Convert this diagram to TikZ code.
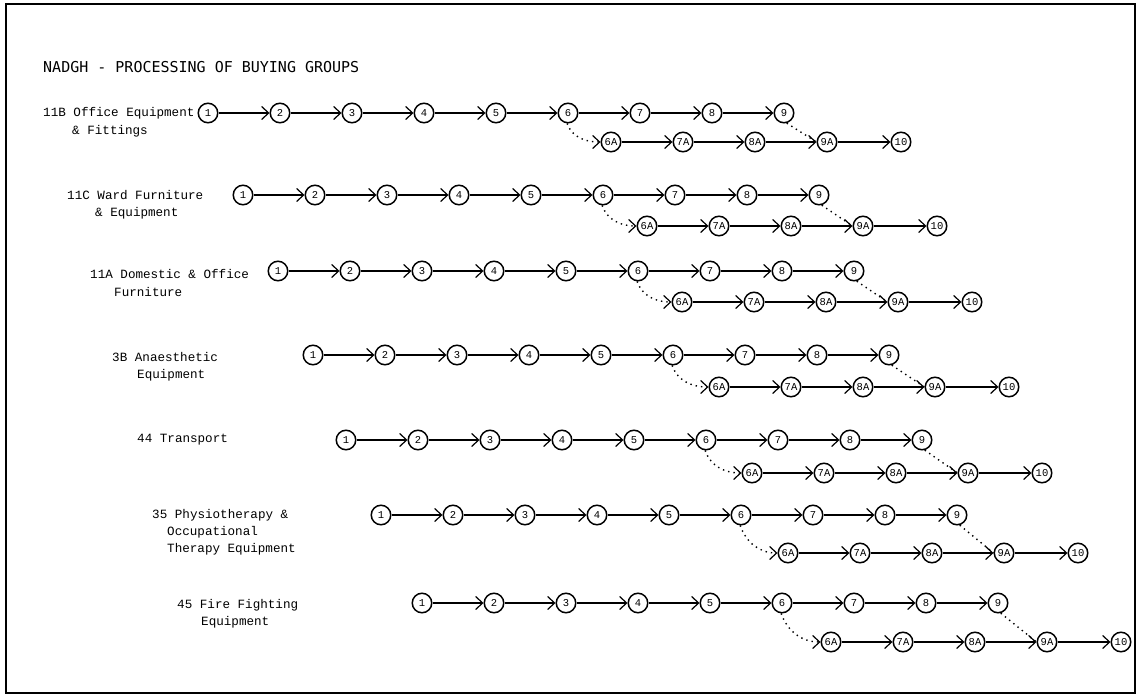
\documentclass[tikz,border=0pt]{standalone}
\usepackage{fontspec}
\newfontfamily\labfont{Liberation Mono}
\newfontfamily\titlefont{DejaVu Sans Mono}
\usetikzlibrary{arrows.meta}
\begin{document}
\begin{tikzpicture}[x=1pt,y=-1pt,
  stage/.style={circle,draw,line width=1.5pt,minimum size=19.5pt,inner sep=0pt,
    font=\labfont\fontsize{10.5}{10.5}\selectfont},
  flow/.style={line width=1.2pt,-{Straight Barb[length=7pt,width=13pt,line width=1.2pt]}},
  link/.style={line width=1.4pt,dash pattern=on 1.4pt off 4pt},
  linkarrow/.style={link,-{Straight Barb[length=7pt,width=13pt,line width=1.2pt]}},
  lab/.style={anchor=west,inner sep=0pt,font=\labfont\fontsize{12.6}{12.6}\selectfont},
  ttl/.style={anchor=west,inner sep=0pt,font=\titlefont\fontsize{15}{15}\selectfont}]
\useasboundingbox (0,0) rectangle (1138,695);
\draw[line width=1.6pt] (6,4) rectangle (1135,693);
\node[ttl] (title) at (43,67) {NADGH - PROCESSING OF BUYING GROUPS};
% labels
\node[lab] (l0a) at (43,113) {11B Office Equipment};
\node[lab] (l0b) at (72,131) {\& Fittings};
\node[lab] (l1a) at (67,195) {11C Ward Furniture};
\node[lab] (l1b) at (95,213) {\& Equipment};
\node[lab] (l2a) at (90,274) {11A Domestic \& Office};
\node[lab] (l2b) at (114,292) {Furniture};
\node[lab] (l3a) at (112,357) {3B Anaesthetic};
\node[lab] (l3b) at (137,375) {Equipment};
\node[lab] (l4a) at (137,440) {44 Transport};
\node[lab] (l5a) at (152,515) {35 Physiotherapy \&};
\node[lab] (l5b) at (167,532) {Occupational};
\node[lab] (l5c) at (167,549) {Therapy Equipment};
\node[lab] (l6a) at (177,605) {45 Fire Fighting};
\node[lab] (l6b) at (201,622) {Equipment};
% networks
\foreach \r/\y/\yl/\xo/\off in {0/113/142/208/43, 1/195/226/243/44, 2/271/302/278/44, 3/355/387/313/46, 4/440/473/346/46, 5/515/553/381/47, 6/603/642/422/49} {
  \foreach \k in {1,...,9} {\node[stage] (n\r-\k) at ({\xo+(\k-1)*72},\y) {\k};}
  \foreach \k in {6,...,9} {\node[stage] (a\r-\k) at ({\xo+(\k-1)*72+\off},\yl) {\k A};}
  \node[stage] (t\r) at ({\xo+8*72+\off+74},\yl) {10};
  \foreach \k in {1,...,8} {\pgfmathtruncatemacro{\j}{\k+1}\draw[flow] (n\r-\k) -- (n\r-\j);}
  \foreach \k in {6,7,8} {\pgfmathtruncatemacro{\j}{\k+1}\draw[flow] (a\r-\k) -- (a\r-\j);}
  \draw[flow] (a\r-9) -- (t\r);
  \draw[linkarrow] (n\r-6.-95) to[out=-70,in=180] (a\r-6.west);
  \draw[link] (n\r-9.-75) -- (a\r-9.west);
}
\end{tikzpicture}
\end{document}
